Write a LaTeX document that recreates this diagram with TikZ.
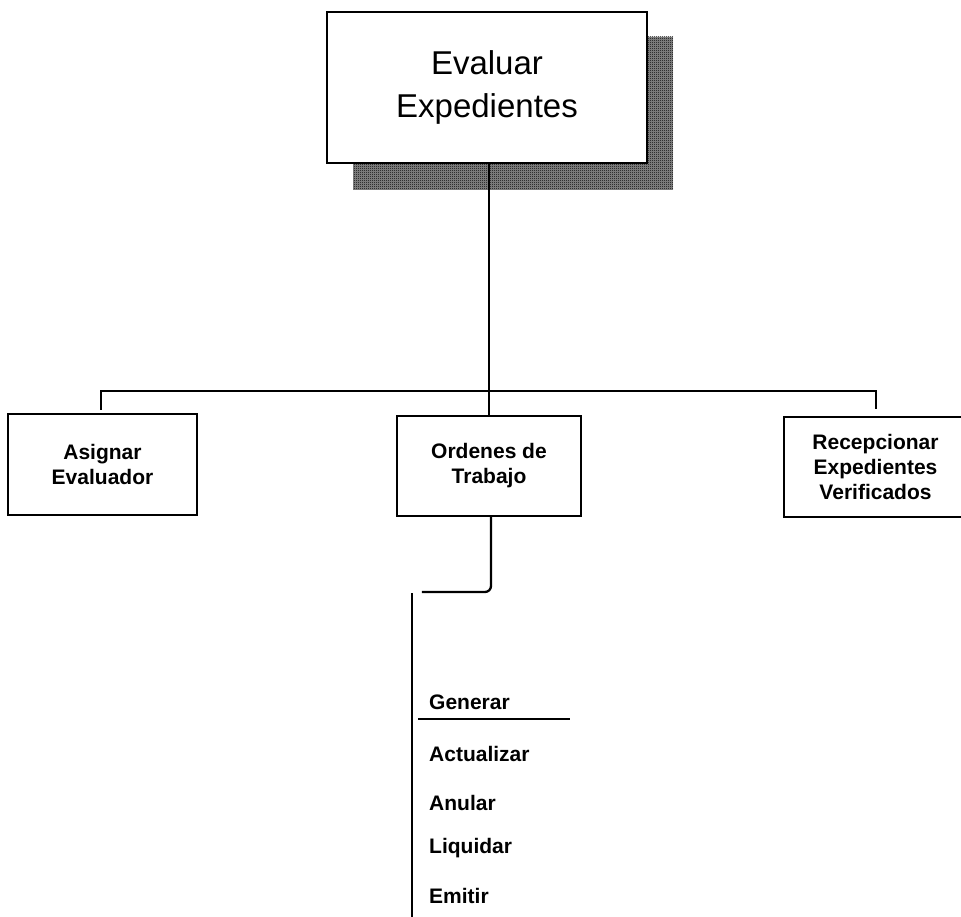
\documentclass[tikz,border=0pt]{standalone}
\usepackage{fontspec}
\setmainfont{Liberation Sans}
\usetikzlibrary{patterns}
% fine two-pixel checker used for the drop shadow
\pgfdeclarepatternformonly{finechecker}{\pgfpointorigin}{\pgfpoint{2pt}{2pt}}{\pgfpoint{2pt}{2pt}}{%
  \pgfpathrectangle{\pgfpointorigin}{\pgfpoint{1pt}{1pt}}%
  \pgfpathrectangle{\pgfpoint{1pt}{1pt}}{\pgfpoint{1pt}{1pt}}%
  \pgfusepath{fill}}
\begin{document}
\begin{tikzpicture}[x=1pt,y=-1pt,
  line/.style={line width=2.3pt,line cap=rect},
  box/.style={draw,line width=2.5pt,fill=white,rectangle,inner sep=0pt,align=center},
  topbox/.style={box,minimum width=320pt,minimum height=151pt,
    font=\fontsize{33}{43}\selectfont},
  subbox/.style={box,font=\bfseries\fontsize{21}{25}\selectfont},
  item/.style={anchor=west,inner sep=0pt,font=\bfseries\fontsize{21}{25}\selectfont},
  shadowbase/.style={fill=black!45,draw=none},
  shadowdots/.style={pattern=finechecker,pattern color=black,draw=none}]
\useasboundingbox (0,0) rectangle (961,917);

% top module with its drop shadow
\fill[shadowbase] (353,37) rectangle (673,190);
\fill[shadowdots] (353,37) rectangle (673,190);
\node[topbox] (top) at (487,87.5) {Evaluar\\Expedientes};

% second level modules
\node[subbox,minimum width=189pt,minimum height=101pt] (asig) at (102.5,464.5) {Asignar\\Evaluador};
\node[subbox,minimum width=184pt,minimum height=100pt] (ord) at (489,466) {Ordenes de\\Trabajo};
\node[subbox,minimum width=183pt,minimum height=100pt] (rec) at (875.5,467) {Recepcionar\\Expedientes\\Verificados};

% branch lines
\coordinate (bus) at (489,391);
\coordinate (busL) at (101,391);
\coordinate (busR) at (876,391);
\coordinate (dropL) at (101,409);
\coordinate (dropR) at (876,408);
\draw[line] (top.south -| bus) -- (bus);
\draw[line] (busL) -- (busR);
\draw[line] (busL) -- (dropL);
\draw[line] (busR) -- (dropR);
\draw[line] (bus) -- (ord.north);

% link to the operations list
\coordinate (bend) at (491,592);
\coordinate (hook) at (423,592);
\draw[line,rounded corners=6pt] (ord.south -| bend) -- (bend) -- (hook);

\coordinate (railT) at (412,593);
\coordinate (railB) at (412,920);
\draw[line,line cap=butt] (railT) -- (railB);

% operations
\node[item] (gen) at (429,702) {Generar};
\coordinate (ulA) at (418,719);
\coordinate (ulB) at (570,719);
\draw[line width=1.8pt] (ulA) -- (ulB);
\node[item] (act) at (429,754) {Actualizar};
\node[item] (anu) at (429,803) {Anular};
\node[item] (liq) at (429,848) {Liquidar};
\node[item] (emi) at (429,896) {Emitir};
\end{tikzpicture}
\end{document}
